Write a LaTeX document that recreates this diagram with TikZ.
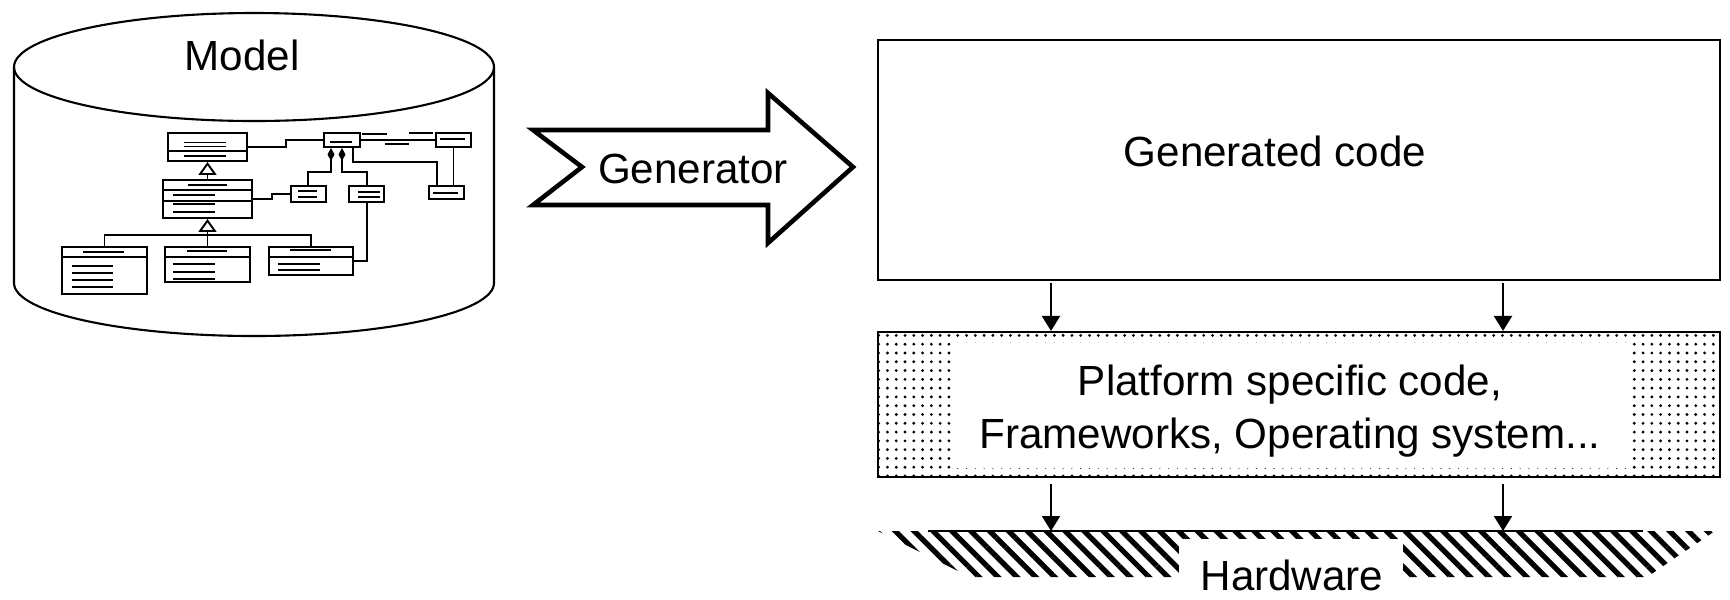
\documentclass[tikz,border=0pt]{standalone}
\usepackage{fontspec}
\setmainfont{Liberation Sans}
\usetikzlibrary{arrows.meta,patterns.meta,fit}

\begin{document}
\begin{tikzpicture}[x=0.1mm,y=-0.1mm,
    line width=0.6pt,
    bigtext/.style={font=\fontsize{12}{15}\selectfont, inner sep=0pt, anchor=base},
    umlcls/.style={draw, fill=white, inner sep=0pt, line width=0.55pt},
    umlwire/.style={line width=0.55pt},
    flow/.style={-{Triangle[length=1.5mm,width=1.8mm]}, line width=0.6pt}]

    \useasboundingbox (0,0) rectangle (1730,599);

    % --- Model (cylinder) ---
    \draw (14,67) -- (14,283) arc[start angle=180, end angle=360, x radius=24mm, y radius=5.3mm] -- (494,67);
    \draw (254,67) ellipse [x radius=24mm, y radius=5.4mm];
    \node[bigtext] (model) at (242,70) {Model};

    % classes of the little UML diagram
    \node[umlcls, fit={(168,133) (247,161)}] (clsA) {};
    \draw[umlwire] (168,151) -- (247,151);
    \draw[umlwire] (184,142.5) -- (226,142.5) (184,146.5) -- (226,146.5) (184,156) -- (226,156);

    \node[umlcls, fit={(163,180) (252,218)}] (clsB) {};
    \draw[umlwire] (163,190) -- (252,190) (163,201) -- (252,201);
    \draw[umlwire] (188,185) -- (227,185) (173,195) -- (215,195) (173,204) -- (215,204) (173,212) -- (215,212);

    \node[umlcls, fit={(62,247) (147,294)}] (clsC1) {};
    \draw[umlwire] (62,257) -- (147,257) (83,252) -- (124,252);
    \foreach \y in {266,273,280,287}
        \draw[umlwire] (72,\y) -- (113,\y);

    \node[umlcls, fit={(165,247) (250,282)}] (clsC2) {};
    \draw[umlwire] (165,257) -- (250,257) (187,251) -- (227,251);
    \foreach \y in {264,272,279}
        \draw[umlwire] (173,\y) -- (215,\y);

    \node[umlcls, fit={(269,247) (353,275)}] (clsC3) {};
    \draw[umlwire] (269,257) -- (353,257) (290,250) -- (331,250);
    \draw[umlwire] (278,264) -- (320,264) (278,270) -- (320,270);

    \node[umlcls, fit={(291,186) (326,202)}] (clsD) {};
    \draw[umlwire] (298,191) -- (317,191) (298,197) -- (317,197);
    \node[umlcls, fit={(349,186) (384,202)}] (clsE) {};
    \draw[umlwire] (358,192) -- (380,192) (358,197) -- (380,197);
    \node[umlcls, fit={(324,133) (360,147)}] (clsF) {};
    \draw[umlwire] (330,142) -- (352,142);
    \node[umlcls, fit={(436,133) (471,147)}] (clsG) {};
    \draw[umlwire] (440,139) -- (465,139);
    \node[umlcls, fit={(429,186) (464,199)}] (clsH) {};
    \draw[umlwire] (433,193) -- (458,193);

    % associations
    \draw[umlwire] (clsA.east) -| (286,140) -- (clsF.west);
    \draw[umlwire] (clsB.east) -| (272,194) -- (clsD.west);
    \draw[umlwire] (clsF.east) -- (clsG.west);
    \draw[umlwire] (362,134) -- (387,134) (385,144) -- (409,144) (409,133) -- (433,133);
    \draw[umlwire] (clsG.south) -- (clsG.south |- clsH.north);
    \draw[umlwire] (clsF.south -| 353,0) |- (437,162) -- (clsH.north -| 437,0);
    \draw[umlwire] (clsE.south -| 367,0) |- (clsC3.east);

    % compositions
    \draw[umlwire, -{Diamond[length=1.3mm,width=0.7mm]}] (clsD.north -| 308,0) |- (331,172) -- (clsF.south -| 331,0);
    \draw[umlwire, -{Diamond[length=1.3mm,width=0.7mm]}] (clsE.north -| 367,0) |- (342,172) -- (clsF.south -| 342,0);

    % generalisations
    \draw[umlwire] (clsC1.north) |- (clsC3.north |- 0,235) -- (clsC3.north);
    \draw[umlwire, -{Triangle[open,length=1.3mm,width=1.8mm]}] (clsB.north) -- (clsA.south);
    \draw[umlwire, -{Triangle[open,length=1.3mm,width=1.8mm]}] (clsC2.north) -- (clsB.south);

    % --- Generator ---
    \draw[line width=1.3pt] (533,130) -- (582,167) -- (533,205) -- (768,205) -- (768,243)
        -- (853,167) -- (768,93) -- (768,130) -- cycle;
    \node[bigtext] (gentool) at (693,183) {Generator};

    % --- Generated code ---
    \node[draw, inner sep=0pt, fit={(878,40) (1720,280)}] (gencode) {};
    \node[bigtext] (gentext) at (1275,166) {Generated code};

    % --- Platform ---
    \node[draw, inner sep=0pt, fit={(878,332) (1720,477)},
        pattern={Dots[distance=2.5pt, radius=0.45pt]}] (platform) {};
    \fill[white] (954,343) rectangle (1630,468);
    \node[bigtext, align=center] (plattext) at (1290,448)
        {Platform specific code,\\Frameworks, Operating system...};

    % --- Hardware ---
    \fill[pattern={Lines[angle=-45, distance=3.8pt, line width=1.5pt]}]
        (878,531) -- (1715,531) -- (1647,577) -- (970,577) -- cycle;
    \fill[white] (1179,539) rectangle (1403,600);
    \coordinate (hwtop) at (1290,531);
    \draw[line width=0.8pt] (928,531) -- (1643,531);
    \node[bigtext] (hwtext) at (1292,590) {Hardware};

    % arrows between the layers
    \foreach \xx in {1051,1503} {
        \draw[flow, shorten <=0.2mm] (gencode.south -| \xx,0) -- (platform.north -| \xx,0);
        \draw[flow, shorten <=0.6mm] (platform.south -| \xx,0) -- (hwtop -| \xx,0);
    }
\end{tikzpicture}
\end{document}
